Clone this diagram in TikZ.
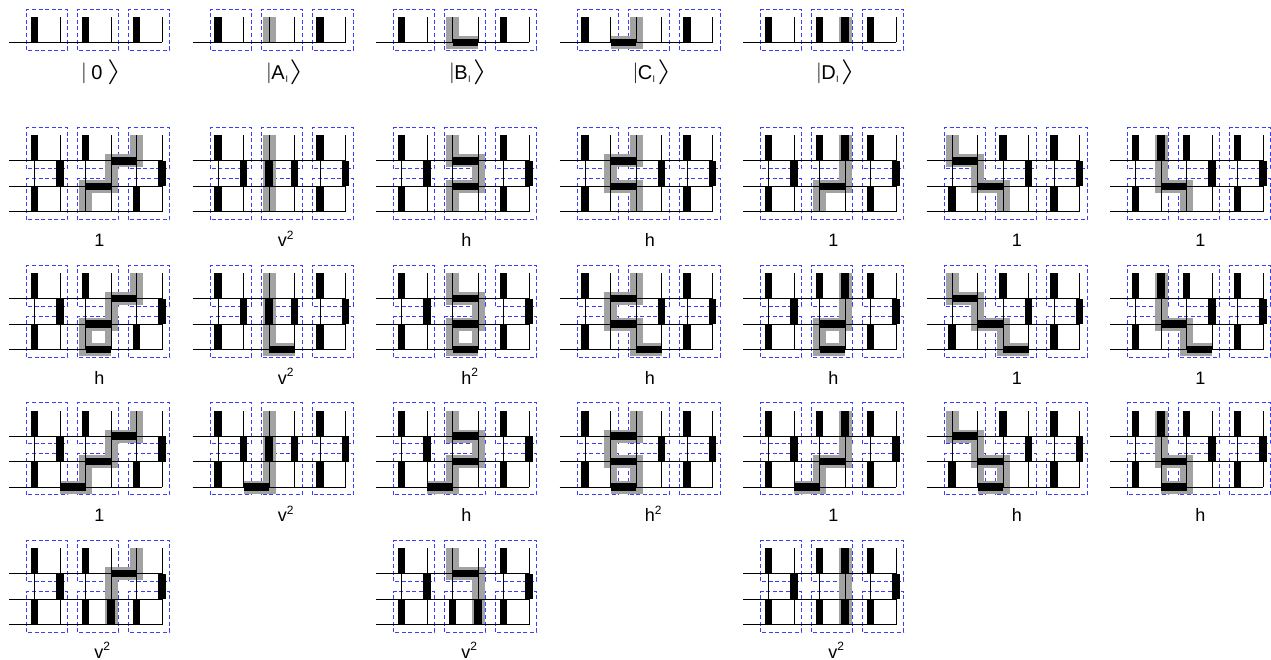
\documentclass[tikz,border=0pt]{standalone}
\usepackage{fontspec}
\setmainfont{Liberation Sans}
\definecolor{strandgray}{RGB}{162,162,162}
\definecolor{boxblue}{RGB}{60,60,255}
\tikzset{
  thinline/.style={line width=1pt,black},
  bluebox/.style={draw=boxblue,line width=1pt,dash pattern=on 4pt off 2.6pt},
  strand/.style={draw=strandgray,line width=13pt,line join=miter,line cap=butt},
  halfstrand/.style={draw=strandgray,line width=6.5pt,line cap=butt},
  dimer/.style={draw=black,line width=7.4pt,line cap=butt},
  lab/.style={anchor=base west,inner sep=0pt,font=\fontsize{18}{18}\selectfont},
  ketlab/.style={anchor=base west,inner sep=0pt,font=\fontsize{20}{20}\selectfont},
}
% gray string, half side of a closed loop
\newcommand{\gs}[1]{\draw[strand] #1;}
\newcommand{\hs}[1]{\draw[halfstrand] (#1,0)--(#1,1);}
% black dimers
\newcommand{\Vs}[1]{\foreach \a/\b in {#1}{\draw[dimer] (\a,\b)--(\a,\b+1);}}
\newcommand{\Hs}[1]{\foreach \a/\b in {#1}{\draw[dimer] (\a,\b)--(\a+1,\b);}}
% three dashed boxes over the columns
\newcommand{\boxrow}[2]{\foreach \c in {1,3,5}{%
  \draw[bluebox] (\c-0.302,#1) rectangle (\c+1.302,#2);}}
% three-row panel: name, x, y, gray, dimers, label, label y
\newcommand{\panel}[7]{%
  \begin{scope}[shift={(#2pt,-#3pt)},x=25.5pt,y=25.5pt]
    \boxrow{1.698}{3.302}
    \boxrow{-0.302}{1.302}
    #4
    \foreach \j in {0,1,2}{\draw[thinline] (0,\j)--(6,\j);}
    \foreach \i in {1,...,6}{\draw[thinline] (\i,0)--(\i,3);}
    #5
    \node[lab] (#1) at (3.34,#7) {#6};
  \end{scope}}
% one-row panel: x, gray, dimers
\newcommand{\statepanel}[3]{%
  \begin{scope}[shift={(#1pt,-42.5pt)},x=25.5pt,y=25.5pt]
    \boxrow{-0.302}{1.302}
    #2
    \draw[thinline] (0,0)--(6,0);
    \foreach \i in {1,...,6}{\draw[thinline] (\i,0)--(\i,1);}
    #3
  \end{scope}}
% ket label
\newcommand{\ketbar}{{\fontsize{22}{22}\selectfont\raisebox{1.5pt}{$\vert$}}}
\newcommand{\ketang}{{\fontsize{24}{24}\selectfont\raisebox{1pt}{\scalebox{1.5}[1]{$\rangle$}}}}
\newcommand{\subl}{\raisebox{-3pt}{\fontsize{9}{9}\selectfont l}}
\newcommand{\sq}[1]{#1\raisebox{7.5pt}{\fontsize{12}{12}\selectfont 2}}
\begin{document}
\begin{tikzpicture}[x=1pt,y=1pt]
\useasboundingbox (0,-660) rectangle (1271,0);
\fill[white] (0,-660) rectangle (1271,0);

% states
\statepanel{9}{}{\Vs{1/0,3/0,5/0}}
\statepanel{192.5}{\gs{(3,1)--(3,0)}}{\Vs{1/0,5/0}}
\statepanel{376}{\gs{(3,1)--(3,0)--(4,0)}}{\Vs{1/0,5/0}\Hs{3/0}}
\statepanel{559.5}{\gs{(3,1)--(3,0)--(2,0)}}{\Vs{1/0,5/0}\Hs{2/0}}
\statepanel{743}{\gs{(4,1)--(4,0)}}{\Vs{1/0,3/0,4/0,5/0}}

\node[ketlab] (ket0) at (81,-80) {\ketbar\kern4.5pt 0\kern4.5pt\ketang};
\node[ketlab] (ketA) at (266,-80) {\ketbar\kern-0.5pt A\kern1pt\subl\kern1.5pt\ketang};
\node[ketlab] (ketB) at (449,-80) {\ketbar\kern-0.5pt B\kern0.5pt\subl\kern2.5pt\ketang};
\node[ketlab] (ketC) at (632.5,-80) {\ketbar\kern-0.5pt C\kern0.5pt\subl\kern2.5pt\ketang};
\node[ketlab] (ketD) at (816,-80) {\ketbar\kern-0.5pt D\kern0.5pt\subl\kern2.5pt\ketang};

% row 1
\panel{a1}{9}{212}{\gs{(5,3)--(5,2)--(4,2)--(4,1)--(3,1)--(3,0)}}{\Vs{1/2,3/2,2/1,6/1,1/0,5/0}\Hs{4/2,3/1}}{1}{-1.36}
\panel{a2}{192.5}{212}{\gs{(3,3)--(3,0)}}{\Vs{1/2,5/2,2/1,3/1,4/1,6/1,1/0,5/0}}{\sq{v}}{-1.36}
\panel{a3}{376}{212}{\gs{(3,3)--(3,2)--(4,2)--(4,1)--(3,1)--(3,0)}}{\Vs{1/2,5/2,2/1,6/1,1/0,5/0}\Hs{3/2,3/1}}{h}{-1.36}
\panel{a4}{559.5}{212}{\gs{(3,3)--(3,2)--(2,2)--(2,1)--(3,1)--(3,0)}}{\Vs{1/2,5/2,4/1,6/1,1/0,5/0}\Hs{2/2,2/1}}{h}{-1.36}
\panel{a5}{743}{212}{\gs{(4,3)--(4,1)--(3,1)--(3,0)}}{\Vs{1/2,3/2,4/2,5/2,2/1,6/1,1/0,5/0}\Hs{3/1}}{1}{-1.36}
\panel{a6}{926.5}{212}{\gs{(1,3)--(1,2)--(2,2)--(2,1)--(3,1)--(3,0)}}{\Vs{3/2,5/2,4/1,6/1,1/0,5/0}\Hs{1/2,2/1}}{1}{-1.36}
\panel{a7}{1110}{212}{\gs{(2,3)--(2,1)--(3,1)--(3,0)}}{\Vs{1/2,2/2,3/2,5/2,4/1,6/1,1/0,5/0}\Hs{2/1}}{1}{-1.36}

% row 2
\panel{b1}{9}{349.5}{\hs{3.875}\gs{(5,3)--(5,2)--(4,2)--(4,1)--(3,1)--(3,0)--(4,0)}}{\Vs{1/2,3/2,2/1,6/1,1/0,5/0}\Hs{4/2,3/1,3/0}}{h}{-1.36}
\panel{b2}{192.5}{349.5}{\gs{(3,3)--(3,0)--(4,0)}}{\Vs{1/2,5/2,2/1,3/1,4/1,6/1,1/0,5/0}\Hs{3/0}}{\sq{v}}{-1.36}
\panel{b3}{376}{349.5}{\hs{3.875}\gs{(3,3)--(3,2)--(4,2)--(4,1)--(3,1)--(3,0)--(4,0)}}{\Vs{1/2,5/2,2/1,6/1,1/0,5/0}\Hs{3/2,3/1,3/0}}{\sq{h}}{-1.36}
\panel{b4}{559.5}{349.5}{\gs{(3,3)--(3,2)--(2,2)--(2,1)--(3,1)--(3,0)--(4,0)}}{\Vs{1/2,5/2,4/1,6/1,1/0,5/0}\Hs{2/2,2/1,3/0}}{h}{-1.36}
\panel{b5}{743}{349.5}{\hs{3.875}\gs{(4,3)--(4,1)--(3,1)--(3,0)--(4,0)}}{\Vs{1/2,3/2,4/2,5/2,2/1,6/1,1/0,5/0}\Hs{3/1,3/0}}{h}{-1.36}
\panel{b6}{926.5}{349.5}{\gs{(1,3)--(1,2)--(2,2)--(2,1)--(3,1)--(3,0)--(4,0)}}{\Vs{3/2,5/2,4/1,6/1,1/0,5/0}\Hs{1/2,2/1,3/0}}{1}{-1.36}
\panel{b7}{1110}{349.5}{\gs{(2,3)--(2,1)--(3,1)--(3,0)--(4,0)}}{\Vs{1/2,2/2,3/2,5/2,4/1,6/1,1/0,5/0}\Hs{2/1,3/0}}{1}{-1.36}

% row 3
\panel{c1}{9}{487}{\gs{(5,3)--(5,2)--(4,2)--(4,1)--(3,1)--(3,0)--(2,0)}}{\Vs{1/2,3/2,2/1,6/1,1/0,5/0}\Hs{4/2,3/1,2/0}}{1}{-1.36}
\panel{c2}{192.5}{487}{\gs{(3,3)--(3,0)--(2,0)}}{\Vs{1/2,5/2,2/1,3/1,4/1,6/1,1/0,5/0}\Hs{2/0}}{\sq{v}}{-1.36}
\panel{c3}{376}{487}{\gs{(3,3)--(3,2)--(4,2)--(4,1)--(3,1)--(3,0)--(2,0)}}{\Vs{1/2,5/2,2/1,6/1,1/0,5/0}\Hs{3/2,3/1,2/0}}{h}{-1.36}
\panel{c4}{559.5}{487}{\hs{2.125}\gs{(3,3)--(3,2)--(2,2)--(2,1)--(3,1)--(3,0)--(2,0)}}{\Vs{1/2,5/2,4/1,6/1,1/0,5/0}\Hs{2/2,2/1,2/0}}{\sq{h}}{-1.36}
\panel{c5}{743}{487}{\gs{(4,3)--(4,1)--(3,1)--(3,0)--(2,0)}}{\Vs{1/2,3/2,4/2,5/2,2/1,6/1,1/0,5/0}\Hs{3/1,2/0}}{1}{-1.36}
\panel{c6}{926.5}{487}{\hs{2.125}\gs{(1,3)--(1,2)--(2,2)--(2,1)--(3,1)--(3,0)--(2,0)}}{\Vs{3/2,5/2,4/1,6/1,1/0,5/0}\Hs{1/2,2/1,2/0}}{h}{-1.36}
\panel{c7}{1110}{487}{\hs{2.125}\gs{(2,3)--(2,1)--(3,1)--(3,0)--(2,0)}}{\Vs{1/2,2/2,3/2,5/2,4/1,6/1,1/0,5/0}\Hs{2/1,2/0}}{h}{-1.36}

% row 4
\panel{d1}{9}{624.5}{\gs{(5,3)--(5,2)--(4,2)--(4,0)}}{\Vs{1/2,3/2,2/1,6/1,1/0,3/0,4/0,5/0}\Hs{4/2}}{\sq{v}}{-1.32}
\panel{d2}{376}{624.5}{\gs{(3,3)--(3,2)--(4,2)--(4,0)}}{\Vs{1/2,5/2,2/1,6/1,1/0,3/0,4/0,5/0}\Hs{3/2}}{\sq{v}}{-1.32}
\panel{d3}{743}{624.5}{\gs{(4,3)--(4,0)}}{\Vs{1/2,3/2,4/2,5/2,2/1,6/1,1/0,3/0,4/0,5/0}}{\sq{v}}{-1.32}
\end{tikzpicture}
\end{document}
